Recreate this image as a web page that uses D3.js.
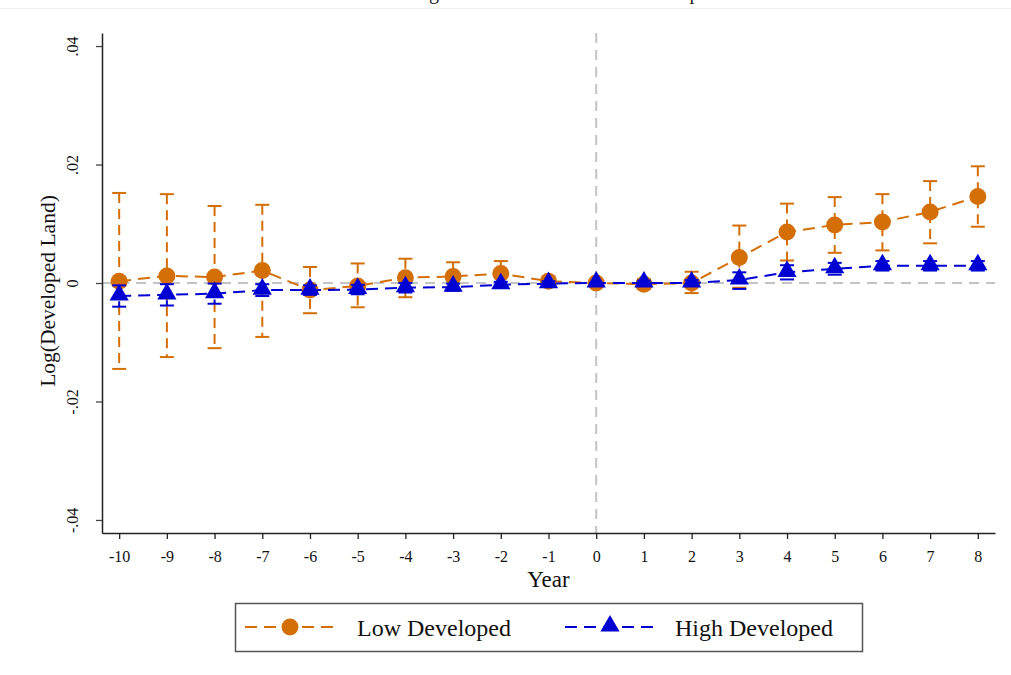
<!DOCTYPE html>
<html>
<head>
<meta charset="utf-8">
<script src="https://d3js.org/d3.v7.min.js"></script>
<style>
  body { margin: 0; background: #ffffff; }
  svg { display: block; font-family: "Liberation Serif", "DejaVu Serif", serif; }
</style>
</head>
<body>
<svg id="drawing_region"></svg>
<script>
// event years
const years = [-10, -9, -8, -7, -6, -5, -4, -3, -2, -1, 0, 1, 2, 3, 4, 5, 6, 7, 8];

// Low Developed: estimate, lower / upper bound of CI
const lowEst = [0.0003, 0.0012, 0.0010, 0.0021, -0.0012, -0.0005, 0.0009, 0.0011, 0.0016, 0.0003,
                0, -0.0002, 0.0000, 0.0043, 0.0086, 0.0098, 0.0103, 0.0120, 0.0146];
const lowLo  = [-0.0145, -0.0125, -0.0110, -0.0091, -0.0051, -0.0041, -0.0024, -0.0012, -0.0006, -0.0006,
                0, -0.0010, -0.0017, -0.0008, 0.0038, 0.0051, 0.0055, 0.0067, 0.0095];
const lowHi  = [0.0152, 0.0150, 0.0130, 0.0132, 0.0027, 0.0033, 0.0041, 0.0035, 0.0037, 0.0011,
                0, 0.0006, 0.0019, 0.0097, 0.0134, 0.0145, 0.0150, 0.0172, 0.0197];

// High Developed
const highEst = [-0.0022, -0.0020, -0.0018, -0.0012, -0.0012, -0.0011, -0.0008, -0.0007, -0.0003, -0.0001,
                 0, 0.0000, 0.0000, 0.0005, 0.0018, 0.0024, 0.0029, 0.0029, 0.0029];
const highLo  = [-0.0040, -0.0038, -0.0035, -0.0022, -0.0020, -0.0019, -0.0016, -0.0013, -0.0008, -0.0005,
                 0, -0.0004, -0.0005, -0.0010, 0.0006, 0.0014, 0.0021, 0.0021, 0.0021];
const highHi  = [-0.0004, -0.0002, -0.0001, -0.0002, -0.0004, -0.0003, 0.0000, -0.0001, 0.0002, 0.0003,
                 0, 0.0004, 0.0005, 0.0018, 0.0030, 0.0034, 0.0037, 0.0037, 0.0037];

const yTicks = [-0.04, -0.02, 0, 0.02, 0.04];
const yTickLabels = ["-.04", "-.02", "0", ".02", ".04"];

const seriesNames = ["Low Developed", "High Developed"];
const seriesColors = ["#d46f08", "#0000d2"];

const lowData = years.map((y, i) => ({ year: y, est: lowEst[i], lo: lowLo[i], hi: lowHi[i] }));
const highData = years.map((y, i) => ({ year: y, est: highEst[i], lo: highLo[i], hi: highHi[i] }));

const width = 1011, height = 675;
const svg = d3.select('#drawing_region')
    .attr('width', width)
    .attr('height', height);

// plot region (Stata-like)
const plot = { left: 102, right: 995, top: 33, bottom: 533 };

const xscale = d3.scaleLinear()
    .domain([-10.36, 8.36])
    .range([plot.left, plot.right]);

const yscale = d3.scaleLinear()
    .domain([-0.0422, 0.0422])
    .range([plot.bottom, plot.top]);

// faint page edge at the top
svg.append('line')
    .attr('x1', 0).attr('x2', width)
    .attr('y1', 8.5).attr('y2', 8.5)
    .attr('stroke', '#efefef')
    .attr('stroke-width', 1);

// title, cut off above the frame as in the original
svg.append('text')
    .attr('x', 557)
    .attr('y', -1)
    .attr('text-anchor', 'middle')
    .attr('font-size', '20px')
    .attr('fill', '#222')
    .text('Heterogeneous Effects on Land Development');

// reference lines
svg.append('line')
    .attr('x1', plot.left).attr('x2', plot.right)
    .attr('y1', yscale(0)).attr('y2', yscale(0))
    .attr('stroke', '#c4c4c4')
    .attr('stroke-width', 2)
    .attr('stroke-dasharray', '10,7');

svg.append('line')
    .attr('x1', xscale(0)).attr('x2', xscale(0))
    .attr('y1', plot.top).attr('y2', plot.bottom)
    .attr('stroke', '#c4c4c4')
    .attr('stroke-width', 2)
    .attr('stroke-dasharray', '10,7');

// axes
const xaxis = d3.axisBottom(xscale)
    .tickValues(years)
    .tickFormat(d => String(d))
    .tickSize(6)
    .tickSizeOuter(0);

const yaxis = d3.axisLeft(yscale)
    .tickValues(yTicks)
    .tickFormat((d, i) => yTickLabels[i])
    .tickSize(6)
    .tickSizeOuter(0);

const xaxis_group = svg.append('g')
    .attr('transform', `translate(0, ${plot.bottom})`)
    .call(xaxis);
xaxis_group.select('.domain').attr('stroke', '#222').attr('stroke-width', 1.5);
xaxis_group.selectAll('.tick line').attr('stroke', '#222').attr('stroke-width', 1.3);
xaxis_group.selectAll('.tick text')
    .attr('font-family', '"Liberation Serif", serif')
    .attr('font-size', '16px')
    .attr('fill', '#111')
    .attr('dy', null)
    .attr('y', 29);

const yaxis_group = svg.append('g')
    .attr('transform', `translate(${plot.left}, 0)`)
    .call(yaxis);
yaxis_group.select('.domain').attr('stroke', '#222').attr('stroke-width', 1.5);
yaxis_group.selectAll('.tick line').attr('stroke', '#444').attr('stroke-width', 1.3);
yaxis_group.selectAll('.tick text')
    .attr('font-family', '"Liberation Serif", serif')
    .attr('font-size', '16px')
    .attr('fill', '#111')
    .attr('x', null)
    .attr('dy', null)
    .attr('text-anchor', 'middle')
    .attr('transform', 'translate(-24, 0) rotate(-90)');

// axis titles
svg.append('text')
    .attr('x', (plot.left + plot.right) / 2)
    .attr('y', 587)
    .attr('text-anchor', 'middle')
    .attr('font-size', '23px')
    .attr('fill', '#111')
    .text('Year');

svg.append('text')
    .attr('transform', `translate(55, 291) rotate(-90)`)
    .attr('text-anchor', 'middle')
    .attr('font-size', '21.5px')
    .attr('fill', '#111')
    .text('Log(Developed Land)');

const line = d3.line()
    .x(d => xscale(d.year))
    .y(d => yscale(d.est));

const triangle = d3.symbol().type(d3.symbolTriangle).size(160);
const capHalf = 7;

function drawSeries(data, color, marker) {
    const g = svg.append('g');

    // confidence intervals
    const ci = g.append('g');
    ci.selectAll('line.whisker')
        .data(data)
        .join('line')
        .attr('class', 'whisker')
        .attr('x1', d => xscale(d.year)).attr('x2', d => xscale(d.year))
        .attr('y1', d => yscale(d.hi)).attr('y2', d => yscale(d.lo))
        .attr('stroke', color)
        .attr('stroke-width', 2)
        .attr('stroke-dasharray', '10,6');
    ci.selectAll('line.capTop')
        .data(data)
        .join('line')
        .attr('class', 'capTop')
        .attr('x1', d => xscale(d.year) - capHalf).attr('x2', d => xscale(d.year) + capHalf)
        .attr('y1', d => yscale(d.hi)).attr('y2', d => yscale(d.hi))
        .attr('stroke', color)
        .attr('stroke-width', 2);
    ci.selectAll('line.capBot')
        .data(data)
        .join('line')
        .attr('class', 'capBot')
        .attr('x1', d => xscale(d.year) - capHalf).attr('x2', d => xscale(d.year) + capHalf)
        .attr('y1', d => yscale(d.lo)).attr('y2', d => yscale(d.lo))
        .attr('stroke', color)
        .attr('stroke-width', 2);

    // connecting line
    g.append('path')
        .datum(data)
        .attr('d', line)
        .attr('fill', 'none')
        .attr('stroke', color)
        .attr('stroke-width', 2)
        .attr('stroke-dasharray', '12,7');

    // markers
    if (marker === 'circle') {
        g.selectAll('circle')
            .data(data)
            .join('circle')
            .attr('cx', d => xscale(d.year))
            .attr('cy', d => yscale(d.est))
            .attr('r', 8.5)
            .attr('fill', color);
    } else {
        g.selectAll('path.tri')
            .data(data)
            .join('path')
            .attr('class', 'tri')
            .attr('d', triangle)
            .attr('transform', d => `translate(${xscale(d.year)}, ${yscale(d.est) - 1})`)
            .attr('fill', color);
    }
}

drawSeries(lowData, seriesColors[0], 'circle');
drawSeries(highData, seriesColors[1], 'triangle');

// legend
const legend = svg.append('g');
legend.append('rect')
    .attr('x', 235.5).attr('y', 603.5)
    .attr('width', 627).attr('height', 48)
    .attr('fill', 'none')
    .attr('stroke', '#555')
    .attr('stroke-width', 1.5);

const legendItems = [
    { name: seriesNames[0], color: seriesColors[0], marker: 'circle', x0: 245, x1: 335, tx: 357 },
    { name: seriesNames[1], color: seriesColors[1], marker: 'triangle', x0: 565, x1: 655, tx: 675 }
];
const ly = 627;
legendItems.forEach(item => {
    legend.append('line')
        .attr('x1', item.x0).attr('x2', item.x1)
        .attr('y1', ly).attr('y2', ly)
        .attr('stroke', item.color)
        .attr('stroke-width', 2)
        .attr('stroke-dasharray', '12,7');
    const mx = (item.x0 + item.x1) / 2;
    if (item.marker === 'circle') {
        legend.append('circle')
            .attr('cx', mx).attr('cy', ly)
            .attr('r', 8.5)
            .attr('fill', item.color);
    } else {
        legend.append('path')
            .attr('d', triangle)
            .attr('transform', `translate(${mx}, ${ly - 1})`)
            .attr('fill', item.color);
    }
    legend.append('text')
        .attr('x', item.tx)
        .attr('y', ly + 9)
        .attr('font-size', '24px')
        .attr('fill', '#111')
        .text(item.name);
});
</script>
</body>
</html>
